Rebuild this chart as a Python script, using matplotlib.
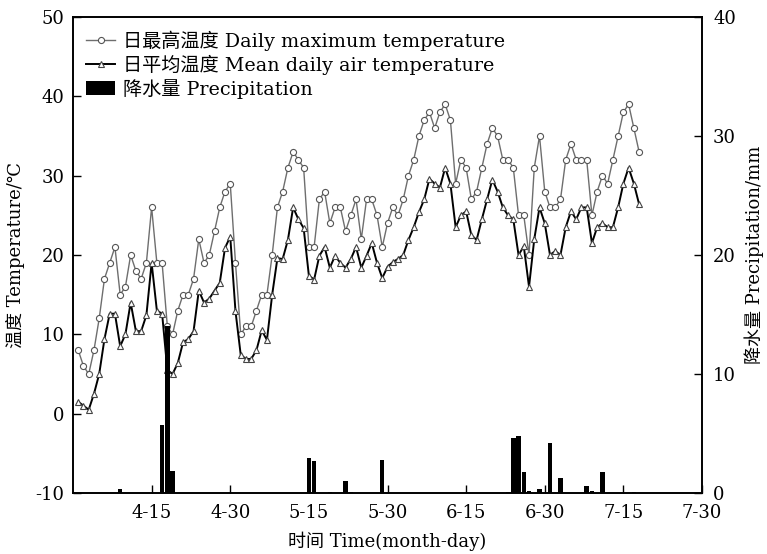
import numpy as np
import matplotlib
matplotlib.use("Agg")
import matplotlib.pyplot as plt

plt.rcParams['font.family'] = ['DejaVu Serif', 'Noto Sans CJK SC']
plt.rcParams['axes.unicode_minus'] = False

# 天数偏移（0 = 4-15）
first_day = -14
t_max = [8, 6, 5, 8, 12, 17, 19, 21, 15, 16, 20, 18, 17, 19,
         26, 19, 19, 11, 10,
         13, 15, 15, 17, 22, 19, 20, 23, 26, 28, 29,
         19, 10, 11, 11, 13, 15, 15,
         20, 26, 28, 31, 33, 32, 31,
         21, 21, 27, 28, 24, 26, 26, 23, 25, 27, 22, 27, 27, 25, 21,
         24, 26, 25, 27, 30, 32, 35, 37, 38, 36, 38, 39, 37, 29, 32, 31,
         27, 28, 31, 34, 36, 35, 32, 32, 31, 25, 25, 20, 31, 35, 28, 26, 26, 27, 32, 34,
         32, 32, 32, 25, 28, 30, 29, 32, 35, 38, 39, 36, 33]
t_mean = [1.5, 1.0, 0.5, 2.5, 5.0, 9.4, 12.6, 12.6, 8.5, 10.0, 14.0, 10.4, 10.4, 12.4,
          19.0, 13.0, 12.6, 5.5, 5.0,
          6.4, 9.0, 9.4, 10.4, 15.5, 14.0, 14.5, 15.5, 16.5, 20.9, 22.3,
          12.9, 7.4, 6.9, 6.9, 8.0, 10.5, 9.3,
          15.0, 19.6, 19.5, 21.9, 26.0, 24.5, 23.4,
          17.4, 16.9, 19.9, 21.0, 18.4, 19.9, 19.0, 18.4, 19.5, 21.0, 18.4, 19.9, 21.5, 19.0, 17.1,
          18.5, 19.1, 19.5, 20.0, 21.9, 23.5, 25.4, 27.0, 29.6, 29.0, 28.5, 31.0, 29.0, 23.5, 25.0, 25.5,
          22.5, 21.9, 24.5, 27.0, 29.5, 28.0, 26.0, 25.0, 24.5, 20.0, 21.1, 16.0, 22.0, 26.0, 24.0, 20.0, 20.5, 20.0, 23.5, 25.5,
          24.5, 26.0, 26.0, 21.5, 23.5, 24.0, 23.5, 23.5, 26.0, 29.0, 31.0, 29.0, 26.4]
days = np.arange(first_day, first_day + len(t_max))

rain_days = [-6, 2, 3, 4, 30, 31, 34, 37, 38, 44, 68, 69, 70, 71, 72, 74, 76, 78, 83, 84, 86, 92]
rain = [0.3, 5.7, 14.0, 1.85, 2.9, 2.7, 0.1, 1.0, 0.1, 2.8, 0.1, 4.65, 4.8, 1.8, 0.2, 0.3, 4.2, 1.3, 0.6, 0.2, 1.8, 0.1]

tick_pos = [0, 15, 30, 45, 60, 75, 90, 105]
tick_lab = ['4-15', '4-30', '5-15', '5-30', '6-15', '6-30', '7-15', '7-30']

fig = plt.figure(figsize=(7.67, 5.54), dpi=100)
ax = fig.add_axes([73/767, 1-493/554, (702-73)/767, (493-17)/554])

l1, = ax.plot(days, t_max, color='#6e6e6e', lw=1.0, marker='o', ms=4.4,
              mfc='white', mec='#555555', mew=0.8)
l2, = ax.plot(days, t_mean, color='black', lw=1.4, marker='^', ms=4.8,
              mfc='white', mec='#444444', mew=0.8)
ax.set_xlim(-15, 105)
ax.set_ylim(-10, 50)
ax.set_yticks(range(-10, 51, 10))
ax.set_xticks(tick_pos)
ax.set_xticklabels(tick_lab)
ax.tick_params(axis='y', direction='in', length=6, width=1, labelsize=13, pad=6)
ax.tick_params(axis='x', direction='in', length=6, width=1, labelsize=13, pad=8)
ax.set_ylabel('温度 Temperature/℃', fontsize=13, labelpad=8)
ax.set_xlabel('时间 Time(month-day)', fontsize=13, labelpad=7)

ax2 = ax.twinx()
b = ax2.bar(rain_days, rain, width=0.85, color='black')
ax2.set_ylim(0, 40)
ax2.set_yticks(range(0, 41, 10))
ax2.tick_params(direction='in', length=6, width=1, labelsize=13, pad=8)
ax2.set_ylabel('降水量 Precipitation/mm', fontsize=13, rotation=90, labelpad=6)

for a in (ax, ax2):
    for s in a.spines.values():
        s.set_linewidth(1.2)

ax.legend([l1, l2, b], ['日最高温度 Daily maximum temperature',
                        '日平均温度 Mean daily air temperature',
                        '降水量 Precipitation'],
          loc='upper left', bbox_to_anchor=(0.0, 1.0), frameon=False,
          fontsize=13.8, handlelength=1.5, handletextpad=0.4, labelspacing=0.2,
          borderaxespad=0.3)

fig.savefig('out.png', dpi=100)
